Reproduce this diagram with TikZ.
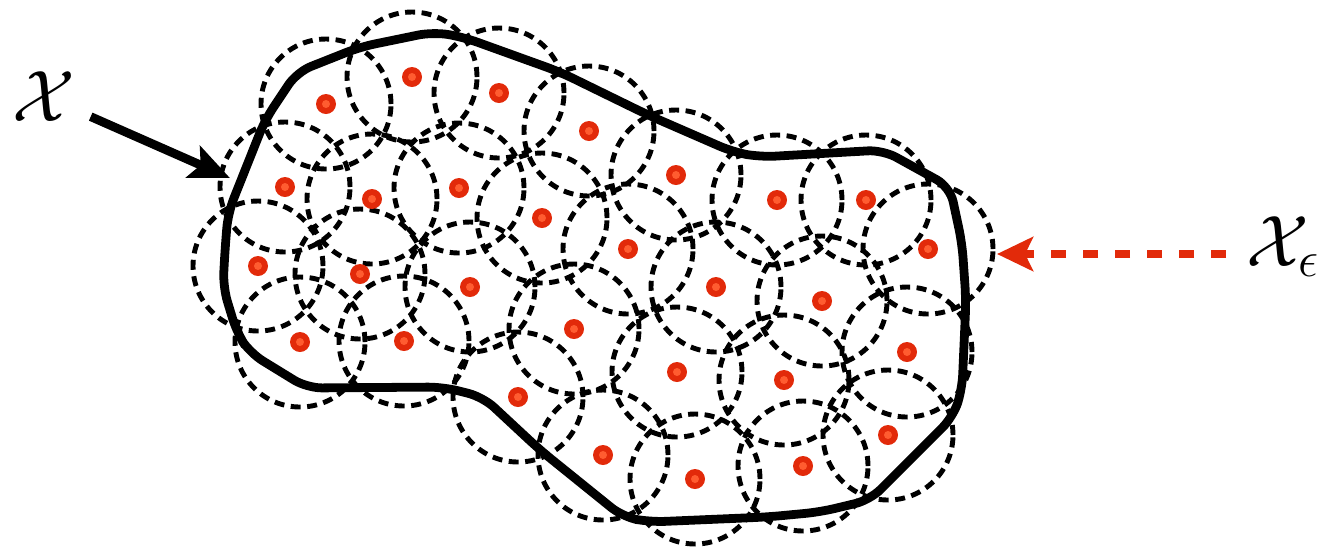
\documentclass[tikz,border=0pt]{standalone}
\usepackage{amsmath,amssymb}
\usepackage{xcolor}
\usepackage{tikz}
\usetikzlibrary{arrows.meta}

\definecolor{ptred}{RGB}{226,42,10}
\definecolor{ptlight}{RGB}{255,92,48}

\begin{document}
\begin{tikzpicture}[x=0.1mm, y=-0.1mm,
  every node/.style={font=\fontsize{21}{25}\selectfont, inner sep=0pt},
  cover/.style={dash pattern=on 1mm off 0.65mm, line width=1.4pt},
  setline/.style={line width=2.5pt, rounded corners=1.5mm}]
  \useasboundingbox (0,0) rectangle (1318,547);
  % epsilon-balls around the centres
  \foreach \px/\py in {326/104, 412/77, 499/93, 589/131, 676/175, 777/200,
      866/200, 928/249, 285/187, 372/199, 459/188, 542/218, 628/249, 716/287,
      822/301, 907/352, 258/266, 360/274, 470/287, 574/329, 677/372, 784/380,
      888/435, 300/342, 404/341, 518/397, 603/455, 695/479, 803/466}
    \draw[cover] (\px,\py) circle[radius=6.5mm];
  % the set X
  \draw[setline] (297,72) -- (360,47) -- (433,32) -- (463,37) -- (560,72)
    -- (648,115) -- (733,152) -- (760,157) -- (883,150) -- (950,187)
    -- (962,243) -- (966,300) -- (962,390) -- (953,417) -- (870,500)
    -- (820,512) -- (767,517) -- (650,522) -- (623,517) -- (540,450)
    -- (483,397) -- (443,387) -- (307,388) -- (250,353) -- (237,333)
    -- (223,287) -- (225,250) -- (228,213) -- (265,120) -- cycle;
  % centres
  \foreach \px/\py in {326/104, 412/77, 499/93, 589/131, 676/175, 777/200,
      866/200, 928/249, 285/187, 372/199, 459/188, 542/218, 628/249, 716/287,
      822/301, 907/352, 258/266, 360/274, 470/287, 574/329, 677/372, 784/380,
      888/435, 300/342, 404/341, 518/397, 603/455, 695/479, 803/466}{
    \fill[ptred] (\px,\py) circle[radius=1mm];
    \fill[ptlight] (\px,\py) circle[radius=0.4mm];
  }
  % labels
  \node[anchor=base west] (setx) at (12,121) {$\mathcal{X}$};
  \node[anchor=base west] (setxe) at (1246,266) {$\mathcal{X}_\epsilon$};
  \coordinate (hitx) at (230,178);
  \coordinate (hitxe) at (997,254);
  \draw[-{Stealth[length=4mm, width=3.4mm, inset=0.8mm]}, line width=2.5pt,
    shorten <=1.6mm] (setx) -- (hitx);
  \draw[-{Stealth[length=3.6mm, width=3.4mm, inset=0.8mm]}, ptred,
    line width=2.5pt, dash pattern=on 1.5mm off 1.7mm, shorten <=2mm]
    (setxe.west |- hitxe) -- (hitxe);
\end{tikzpicture}
\end{document}
